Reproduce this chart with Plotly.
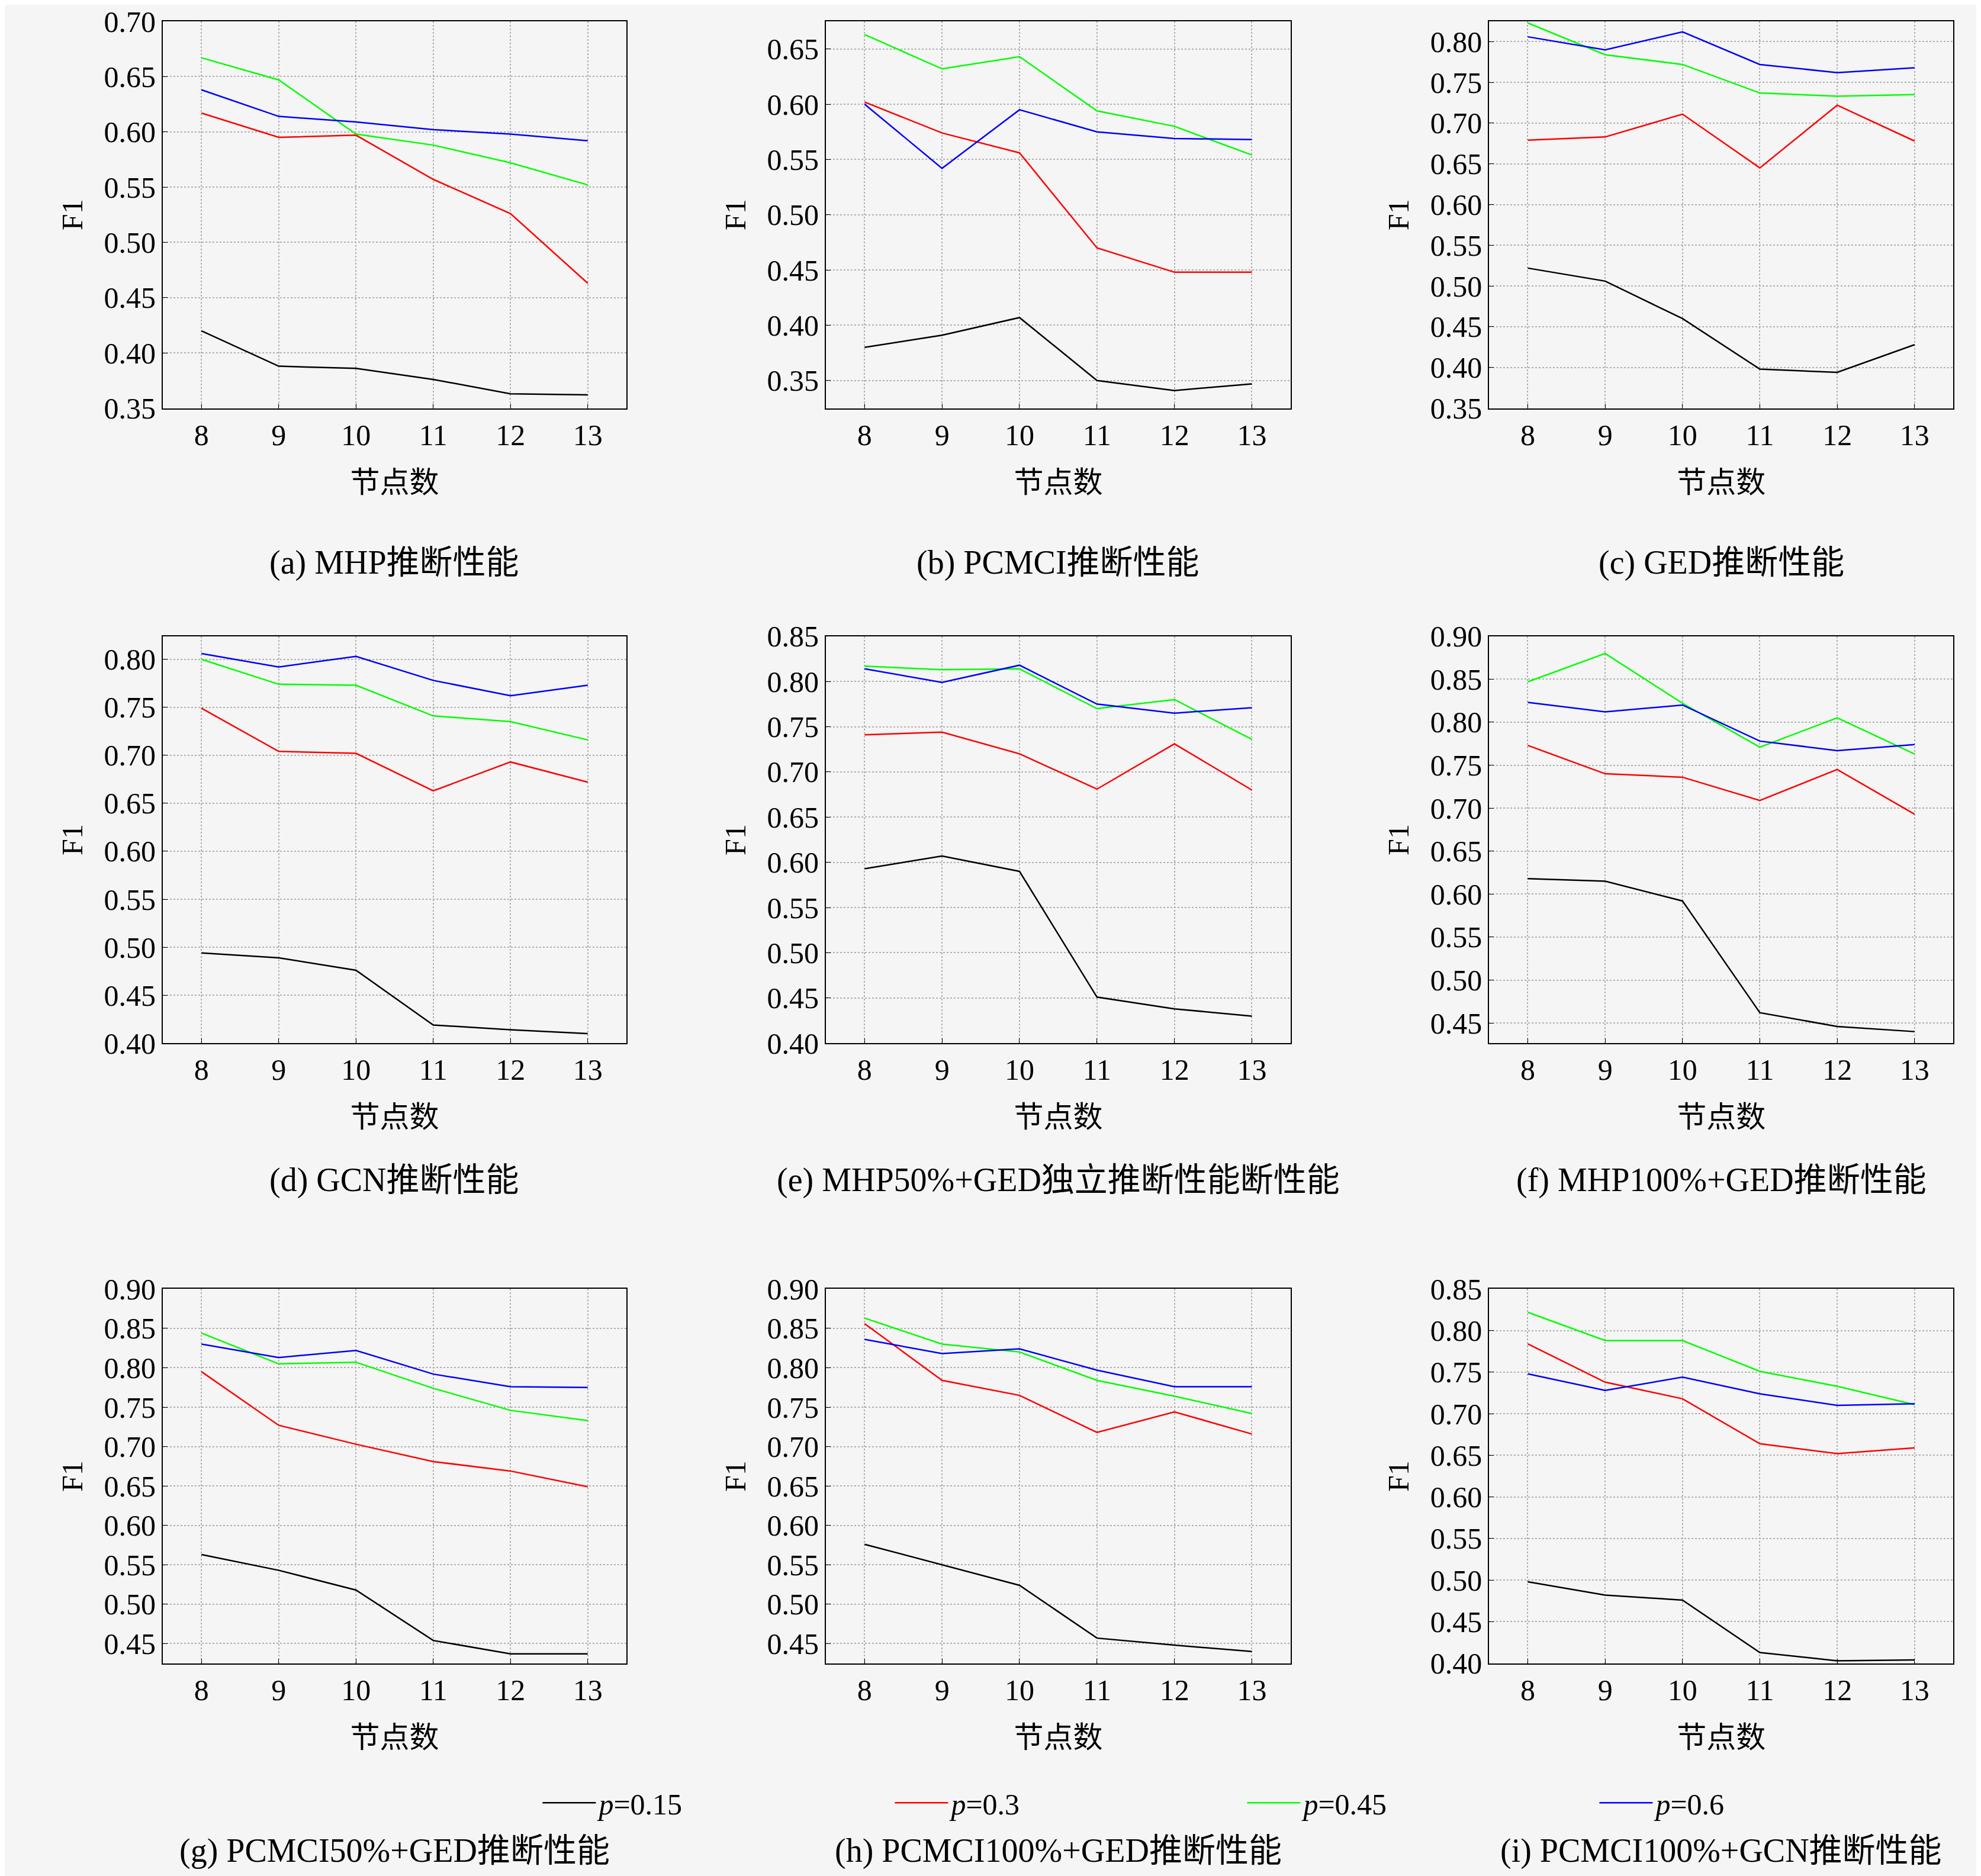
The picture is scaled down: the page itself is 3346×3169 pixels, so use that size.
import plotly.graph_objects as go

nodes = [8, 9, 10, 11, 12, 13]
series_names = ["<i>p</i>=0.15", "<i>p</i>=0.3", "<i>p</i>=0.45", "<i>p</i>=0.6"]
series_colors = ["#000000", "#ff0000", "#00ff00", "#0000ff"]

captions = [
    "(a) MHP推断性能", "(b) PCMCI推断性能", "(c) GED推断性能",
    "(d) GCN推断性能", "(e) MHP50%+GED独立推断性能断性能", "(f) MHP100%+GED推断性能",
    "(g) PCMCI50%+GED推断性能", "(h) PCMCI100%+GED推断性能", "(i) PCMCI100%+GCN推断性能",
]

# per panel: [p=0.15, p=0.3, p=0.45, p=0.6]
panel_values = [
    [[.420, .388, .386, .376, .363, .362], [.617, .595, .597, .557, .526, .463],
     [.667, .647, .598, .588, .572, .552], [.638, .614, .609, .602, .598, .592]],
    [[.380, .391, .407, .350, .341, .347], [.602, .574, .556, .470, .448, .448],
     [.663, .632, .643, .594, .580, .554], [.600, .542, .595, .575, .569, .568]],
    [[.522, .506, .460, .398, .394, .428], [.679, .683, .711, .645, .722, .678],
     [.823, .784, .772, .737, .733, .735], [.806, .790, .812, .772, .762, .768]],
    [[.494, .489, .476, .419, .414, .410], [.749, .704, .702, .663, .693, .672],
     [.800, .774, .773, .741, .735, .716], [.806, .792, .803, .778, .762, .773]],
    [[.593, .607, .590, .451, .438, .430], [.741, .744, .720, .681, .731, .680],
     [.817, .813, .814, .770, .780, .736], [.814, .799, .818, .775, .765, .771]],
    [[.618, .615, .592, .462, .446, .440], [.773, .740, .736, .709, .745, .693],
     [.847, .880, .822, .771, .805, .763], [.823, .812, .820, .778, .767, .774]],
    [[.563, .543, .518, .454, .437, .437], [.795, .727, .703, .681, .669, .649],
     [.844, .805, .807, .774, .746, .733], [.830, .813, .822, .792, .776, .775]],
    [[.576, .550, .524, .457, .448, .440], [.856, .784, .765, .718, .744, .716],
     [.863, .830, .820, .784, .764, .742], [.836, .818, .824, .797, .776, .776]],
    [[.498, .482, .476, .413, .403, .404], [.784, .738, .718, .664, .652, .659],
     [.822, .788, .788, .751, .733, .711], [.748, .728, .744, .724, .710, .712]],
]

y_ranges = [
    [0.35, 0.70], [0.325, 0.675], [0.35, 0.825],
    [0.40, 0.824], [0.40, 0.85], [0.4265, 0.90],
    [0.425, 0.90], [0.425, 0.90], [0.40, 0.85],
]

col_x = [(0.0798, 0.3138), (0.4145, 0.6491), (0.7493, 0.9836)]
row_y = [(0.790, 1.0), (0.4453, 0.6662), (0.1087, 0.3119)]
caption_y = [0.706, 0.371, 0.007]

FONT = "Liberation Serif, Noto Sans CJK SC"
BG = "#f5f5f5"

fig = go.Figure()
for i, vals in enumerate(panel_values):
    r, c = divmod(i, 3)
    ax = "" if i == 0 else str(i + 1)
    for k, ys in enumerate(vals):
        fig.add_trace(go.Scatter(
            x=nodes, y=ys, mode="lines", name=series_names[k],
            line=dict(color=series_colors[k], width=2.5),
            showlegend=(i == 0), xaxis="x" + ax, yaxis="y" + ax,
        ))
    common = dict(showline=True, linecolor="black", linewidth=2, mirror=True,
                  showgrid=True, gridcolor="#b0b0b0", griddash="dot", gridwidth=1.5,
                  ticks="inside", ticklen=8, tickcolor="black",
                  tickfont=dict(size=50, family=FONT), zeroline=False)
    fig.layout["xaxis" + ax] = dict(
        common, domain=col_x[c], anchor="y" + ax, range=[7.5, 13.5],
        tickvals=nodes, title=dict(text="节点数", font=dict(size=50, family=FONT), standoff=35))
    fig.layout["yaxis" + ax] = dict(
        common, domain=row_y[r], anchor="x" + ax, range=y_ranges[i],
        dtick=0.05, tickformat=".2f",
        title=dict(text="F1", font=dict(size=50, family=FONT), standoff=20))
    fig.add_annotation(text=captions[i], xref="paper", yref="paper",
                       x=sum(col_x[c]) / 2, y=caption_y[r], showarrow=False,
                       font=dict(size=56, family=FONT), xanchor="center", yanchor="middle")

fig.update_layout(
    width=3346, height=3169, paper_bgcolor=BG, plot_bgcolor=BG,
    margin=dict(l=0, r=0, t=0, b=0),
    font=dict(family=FONT, color="black"),
    legend=dict(orientation="h", x=0.27, y=0.033, xanchor="left", yanchor="middle",
                bgcolor="rgba(0,0,0,0)", font=dict(size=50, family=FONT),
                itemwidth=90, entrywidth=490, entrywidthmode="pixels"),
)

fig.write_html("out.html")
